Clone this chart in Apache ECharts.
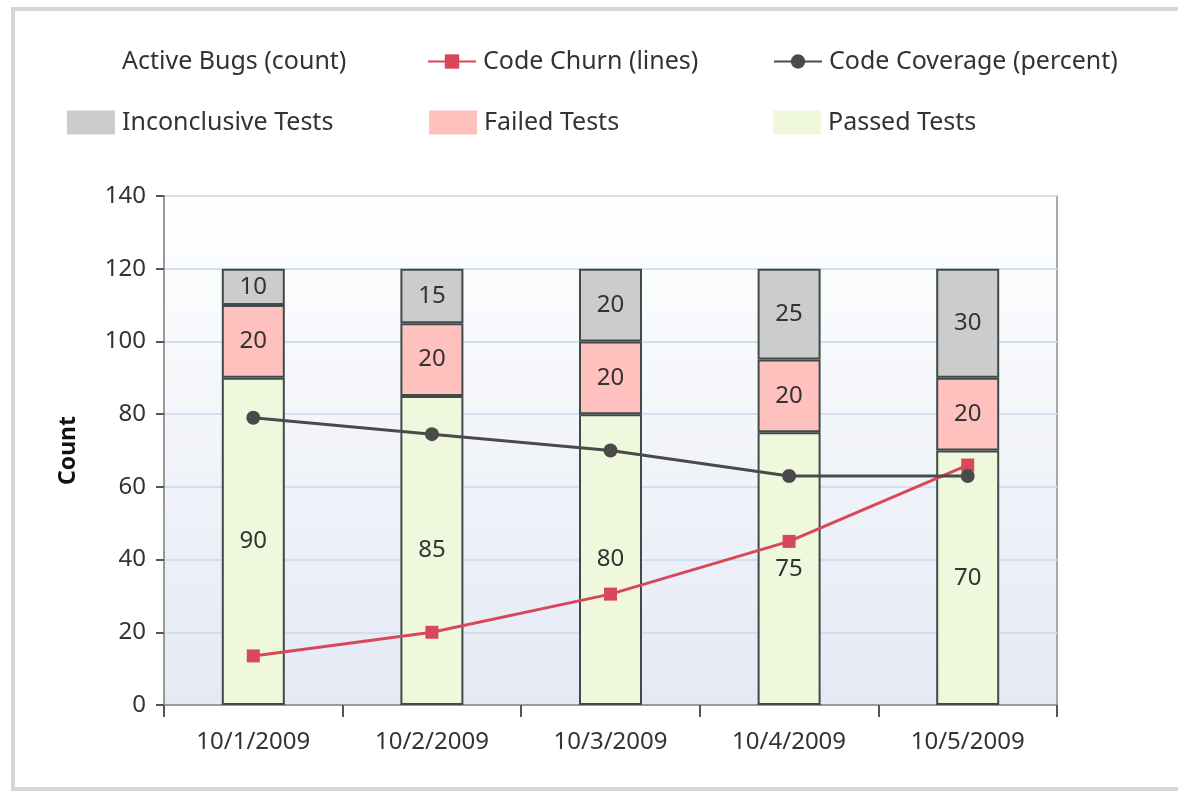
<!DOCTYPE html>
<html>
<head>
<meta charset="utf-8">
<script src="https://cdn.jsdelivr.net/npm/echarts@6/dist/echarts.min.js"></script>
<style>
  html, body { margin: 0; padding: 0; background: #fff; }
  #main { width: 1178px; height: 791px; }
</style>
</head>
<body>
<div id="main"></div>
<script>
// categories + series values
var dates = ['10/1/2009', '10/2/2009', '10/3/2009', '10/4/2009', '10/5/2009'];
var passedTests = [90, 85, 80, 75, 70];
var failedTests = [20, 20, 20, 20, 20];
var inconclusiveTests = [10, 15, 20, 25, 30];
var codeChurn = [13.5, 20, 30.5, 45, 66];
var codeCoverage = [79, 74.5, 70, 63, 63];
var yTicks = { min: 0, max: 140, step: 20 };

var FONT = 'Noto Sans';
var txt = '#333333';

function barLabel() {
    return { show: true, position: 'inside', color: txt, fontSize: 24, fontFamily: FONT };
}

// one legend block per entry so the 3x2 layout can be placed by hand
function oneLegend(name, left, top, h, extra) {
    let item = Object.assign({ name: name }, extra || {});
    return {
        data: [item],
        left: left, top: top,
        itemWidth: 48, itemHeight: h, itemGap: 0,
        textStyle: { color: txt, fontSize: 25, fontFamily: FONT, padding: [0, 0, 0, 2] },
        selectedMode: false
    };
}

var noBorder = { borderWidth: 0 };

var myChart = echarts.init(document.getElementById('main'));

var option = {
    backgroundColor: '#ffffff',
    animation: false,
    graphic: [{
        type: 'rect',
        shape: { x: 13, y: 9, width: 1300, height: 780 },
        style: { fill: 'none', stroke: '#d6d6d6', lineWidth: 4 },
        z: -10
    }],
    legend: [
        oneLegend('Active Bugs (count)', 62, 44, 18, { icon: 'rect', itemStyle: { color: 'rgba(0,0,0,0)', borderWidth: 0 } }),
        oneLegend('Code Churn (lines)', 422, 44, 18),
        oneLegend('Code Coverage (percent)', 768, 44, 18),
        oneLegend('Inconclusive Tests', 62, 105, 24, { icon: 'rect', itemStyle: noBorder }),
        oneLegend('Failed Tests', 424, 105, 24, { icon: 'rect', itemStyle: noBorder }),
        oneLegend('Passed Tests', 768, 105, 24, { icon: 'rect', itemStyle: noBorder })
    ],
    grid: {
        left: 164, right: 121, top: 196, bottom: 86,
        show: true,
        borderColor: '#a8a8a8', borderWidth: 2,
        backgroundColor: new echarts.graphic.LinearGradient(0, 0, 0, 1, [
            { offset: 0, color: '#ffffff' },
            { offset: 1, color: '#e4e9f4' }
        ])
    },
    xAxis: {
        type: 'category',
        data: dates,
        axisLine: { lineStyle: { color: '#9a9a9a', width: 2 } },
        axisTick: { show: true, length: 12, lineStyle: { color: '#555', width: 2 } },
        axisLabel: { color: txt, fontSize: 24, fontFamily: FONT, margin: 25 }
    },
    yAxis: {
        type: 'value',
        min: yTicks.min, max: yTicks.max, interval: yTicks.step,
        name: 'Count',
        nameLocation: 'middle',
        nameGap: 84,
        nameTextStyle: { color: '#111', fontSize: 23, fontWeight: 'bold', fontFamily: FONT },
        axisLine: { show: true, lineStyle: { color: '#9a9a9a', width: 2 } },
        axisTick: { show: true, length: 8, lineStyle: { color: '#555', width: 2 } },
        axisLabel: { color: txt, fontSize: 24, fontFamily: FONT, margin: 18 },
        splitLine: { lineStyle: { color: '#d3deef', width: 2 } }
    },
    series: [
        {
            name: 'Active Bugs (count)', type: 'line', data: [],
            itemStyle: { color: 'rgba(0,0,0,0)' }, lineStyle: { opacity: 0 }
        },
        {
            name: 'Passed Tests', type: 'bar', stack: 'tests', barWidth: 63,
            data: passedTests,
            itemStyle: { color: '#eff8dc', borderColor: '#3e4b49', borderWidth: 2 },
            label: barLabel()
        },
        {
            name: 'Failed Tests', type: 'bar', stack: 'tests', barWidth: 63,
            data: failedTests,
            itemStyle: { color: '#ffc1be', borderColor: '#3e4b49', borderWidth: 2 },
            label: barLabel()
        },
        {
            name: 'Inconclusive Tests', type: 'bar', stack: 'tests', barWidth: 63,
            data: inconclusiveTests,
            itemStyle: { color: '#cccccc', borderColor: '#3e4b49', borderWidth: 2 },
            label: barLabel()
        },
        {
            name: 'Code Churn (lines)', type: 'line',
            data: codeChurn,
            symbol: 'rect', symbolSize: 13,
            itemStyle: { color: '#d9475a' },
            lineStyle: { color: '#d9475a', width: 3 },
            z: 5
        },
        {
            name: 'Code Coverage (percent)', type: 'line',
            data: codeCoverage,
            symbol: 'circle', symbolSize: 14,
            itemStyle: { color: '#4a4a4a' },
            lineStyle: { color: '#4a4a4a', width: 3 },
            z: 6
        }
    ]
};

myChart.setOption(option);
</script>
</body>
</html>
